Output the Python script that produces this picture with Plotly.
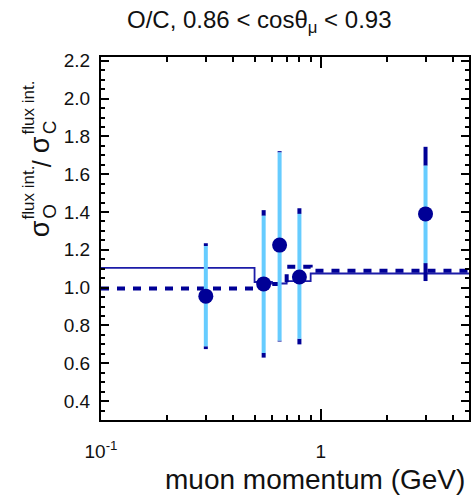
import plotly.graph_objects as go

# ---- data ----
momentum = [0.3, 0.55, 0.65, 0.8, 3.0]          # GeV
ratio = [0.955, 1.02, 1.225, 1.056, 1.39]
stat_lo = [0.69, 0.655, 0.72, 0.73, 1.13]
stat_hi = [1.22, 1.38, 1.715, 1.39, 1.645]
tot_lo = [0.675, 0.63, 0.715, 0.70, 1.035]
tot_hi = [1.235, 1.41, 1.722, 1.42, 1.745]

bin_edges = [0.1, 0.5, 0.6, 0.7, 0.9, 5.0]
model_solid = [1.105, 1.03, 1.022, 1.035, 1.075]
model_dashed = [0.995, 1.005, 1.02, 1.11, 1.09]

y_tick_vals = [0.4, 0.6, 0.8, 1.0, 1.2, 1.4, 1.6, 1.8, 2.0, 2.2]
x_tick_vals = [0.1, 1]
x_tick_text = ["10<sup>-1</sup>", "1"]
x_minor_vals = [0.2, 0.3, 0.4, 0.5, 0.6, 0.7, 0.8, 0.9, 2, 3, 4]

# ---- styling ----
W, H = 472, 495
L, R, T, B = 101, 1, 57, 75
NAVY = "#000096"
LIGHT = "#66CCFF"
FONT = "Liberation Sans, Arial, Helvetica, sans-serif"
TXT = "#111111"


def px(x):
    return (x - L) / (W - L - R)


def py(y):
    return (H - B - y) / (H - T - B)


fig = go.Figure()


def step(vals):
    return list(vals) + [vals[-1]]


fig.add_trace(go.Scatter(x=bin_edges, y=step(model_solid), mode="lines",
                         line=dict(shape="hv", color="#1c1ca8", width=1.8),
                         hoverinfo="skip", showlegend=False))
fig.add_trace(go.Scatter(x=bin_edges, y=step(model_dashed), mode="lines",
                         line=dict(shape="hv", color=NAVY, width=4, dash="8px,8px"),
                         hoverinfo="skip", showlegend=False))

HIDDEN = dict(size=1, color="rgba(0,0,0,0)")
# total-error extensions (dark) beyond the stat bars: upper pieces
fig.add_trace(go.Scatter(
    x=momentum, y=stat_hi, mode="markers", marker=HIDDEN,
    error_y=dict(type="data", symmetric=False,
                 array=[t - s for t, s in zip(tot_hi, stat_hi)],
                 arrayminus=[0] * len(momentum),
                 color=NAVY, thickness=4, width=0),
    hoverinfo="skip", showlegend=False))
# lower pieces
fig.add_trace(go.Scatter(
    x=momentum, y=stat_lo, mode="markers", marker=HIDDEN,
    error_y=dict(type="data", symmetric=False,
                 array=[0] * len(momentum),
                 arrayminus=[s - t for t, s in zip(tot_lo, stat_lo)],
                 color=NAVY, thickness=4, width=0),
    hoverinfo="skip", showlegend=False))
# stat errors (light)
fig.add_trace(go.Scatter(
    x=momentum, y=ratio, mode="markers", marker=HIDDEN,
    error_y=dict(type="data", symmetric=False,
                 array=[h - r for h, r in zip(stat_hi, ratio)],
                 arrayminus=[r - l for l, r in zip(stat_lo, ratio)],
                 color=LIGHT, thickness=4, width=0),
    hoverinfo="skip", showlegend=False))
# points
fig.add_trace(go.Scatter(x=momentum, y=ratio, mode="markers",
                         marker=dict(size=15, color=NAVY, line=dict(width=0)),
                         showlegend=False))

axis_common = dict(showline=True, linecolor="black", linewidth=2, mirror="ticks",
                   ticks="inside", tickcolor="black", tickwidth=1.5,
                   showgrid=False, zeroline=False,
                   tickfont=dict(family=FONT, size=19, color=TXT))

fig.update_xaxes(type="log", range=[-1, 0.675], tickmode="array",
                 tickvals=x_tick_vals, ticktext=x_tick_text, ticklen=11,
                 ticklabelstandoff=13,
                 minor=dict(tickmode="array", tickvals=x_minor_vals, ticks="inside",
                            ticklen=5, tickcolor="black", tickwidth=1.5),
                 **axis_common)
fig.update_yaxes(range=[0.3, 2.22], tickmode="array", tickvals=y_tick_vals,
                 ticktext=[f"{v:.1f}" for v in y_tick_vals], ticklen=8,
                 ticklabelstandoff=5,
                 minor=dict(dtick=0.05, tick0=0.3, ticks="inside", ticklen=4,
                            tickcolor="black", tickwidth=1.5),
                 **axis_common)

ann = []
# title
ann.append(dict(x=px(260), y=py(21), xref="paper", yref="paper", showarrow=False,
                text="O/C, 0.86 < cosθ<sub>μ</sub> < 0.93",
                font=dict(family=FONT, size=24, color=TXT), xanchor="center", yanchor="middle"))
# x title
ann.append(dict(x=px(469), y=py(480), xref="paper", yref="paper", showarrow=False,
                text="muon momentum (GeV)",
                font=dict(family=FONT, size=28, color=TXT), xanchor="right", yanchor="middle"))


def rot(text, x, y, size, yanchor="middle"):
    ann.append(dict(x=px(x), y=py(y), xref="paper", yref="paper", showarrow=False,
                    text=text, textangle=-90,
                    font=dict(family=FONT, size=size, color=TXT),
                    xanchor="center", yanchor=yanchor))


# y title: sigma_O^{flux int.} / sigma_C^{flux int.}
rot("σ", 40, 229, 27)
rot("flux int.", 28, 221, 17, "bottom")
rot("O", 49, 221, 19, "bottom")
rot("/", 42, 164, 25)
rot("σ", 40, 145, 27)
rot("flux int.", 28, 136, 17, "bottom")
rot("C", 49, 136, 19, "bottom")

fig.update_layout(width=W, height=H, margin=dict(l=L, r=R, t=T, b=B),
                  paper_bgcolor="white", plot_bgcolor="white",
                  annotations=ann, showlegend=False)

fig.write_html("out.html")
